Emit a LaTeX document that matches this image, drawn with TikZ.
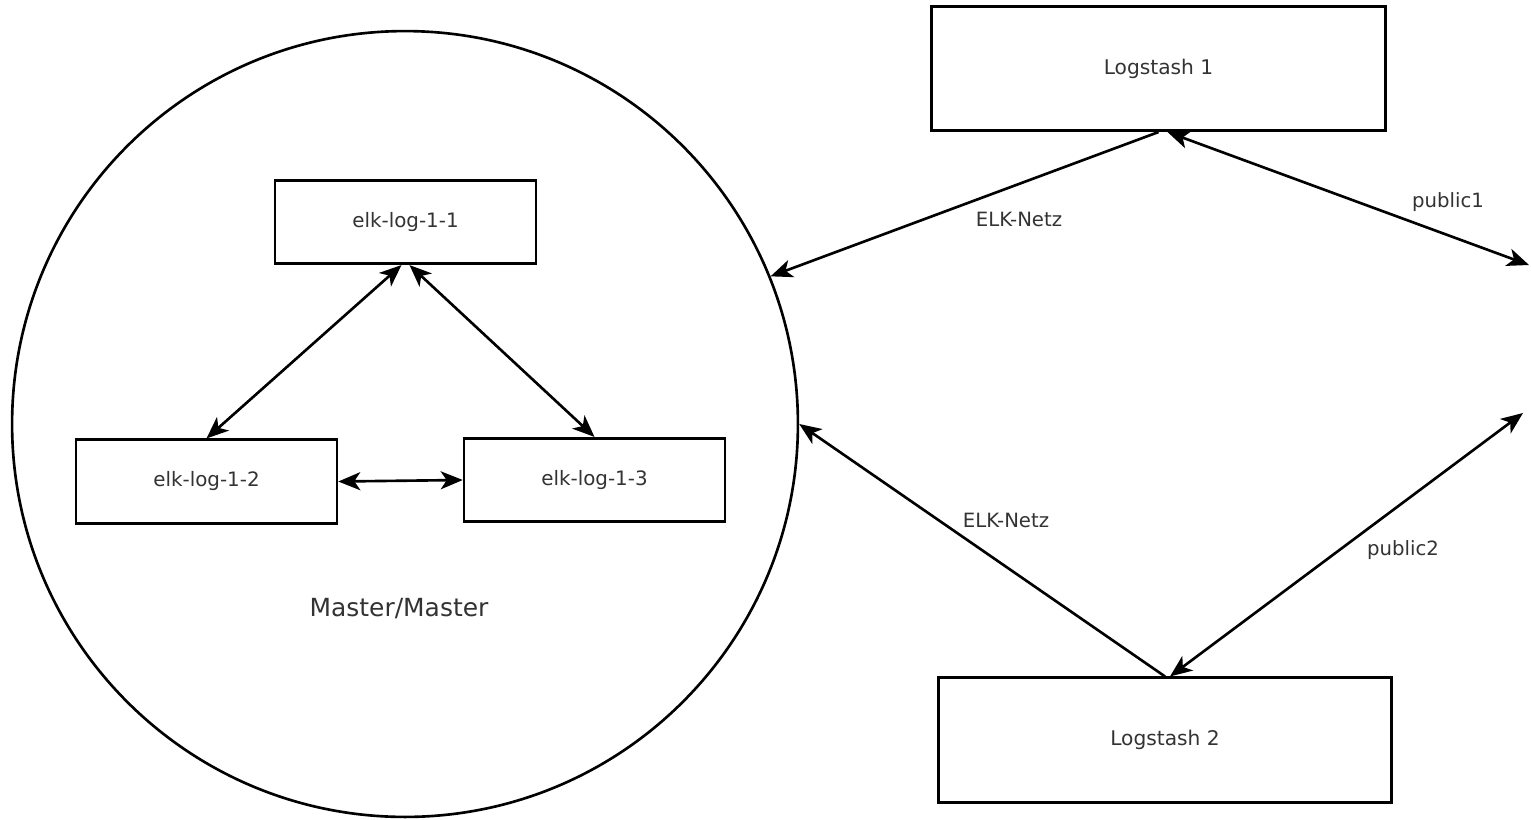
\documentclass[tikz,border=0pt]{standalone}
\usepackage{fontspec}
\setmainfont{DejaVu Sans}
\usetikzlibrary{arrows.meta}

\tikzset{
    hostbox/.style={draw, line width=1.5pt, minimum width=5.22cm, minimum height=1.67cm, font=\fontsize{11.3}{13}\selectfont, text=black!80},
    lsbox/.style={draw, line width=1.5pt, minimum width=9.07cm, minimum height=2.49cm, font=\fontsize{11.5}{13}\selectfont, text=black!80},
    netlabel/.style={font=\fontsize{11.2}{13}\selectfont, text=black!80},
    link/.style={line width=1.5pt, -{Stealth[length=0.44cm, width=0.36cm, inset=0.12cm]}},
    duplex/.style={line width=1.5pt, {Stealth[length=0.44cm, width=0.36cm, inset=0.12cm]}-{Stealth[length=0.44cm, width=0.36cm, inset=0.12cm]}}
}

\begin{document}
\begin{tikzpicture}[x=0.02cm, y=-0.02cm]
    \useasboundingbox (0,0) rectangle (1531,819);

    \begin{scope}[]
    % the master/master cluster
    \node[draw, circle, line width=1.5pt, minimum size=15.72cm, inner sep=0pt] (cluster) at (405,424) {};
    \node[hostbox] (e11) at (405.5,222) {elk-log-1-1};
    \node[hostbox] (e12) at (206.5,481.5) {elk-log-1-2};
    \node[hostbox] (e13) at (594.5,480) {elk-log-1-3};
    \node[font=\fontsize{14.2}{16}\selectfont, text=black!80] (mm) at (399,609) {Master/Master};

    \draw[duplex] ([xshift=-0.08cm]e11.south) -- (e12.north);
    \draw[duplex] ([xshift=0.08cm]e11.south) -- (e13.north);
    \draw[duplex] (e12.east) -- (e13.west);
    \end{scope}

    \begin{scope}[]
    % logstash hosts
    \node[lsbox] (ls1) at (1158.5,68.5) {Logstash 1};
    \node[lsbox] (ls2) at (1165,740) {Logstash 2};
    \coordinate (pub1) at (1529,265);
    \coordinate (pub2) at (1523,413);

    \draw[link] (ls1.south) -- (cluster.22.5);
    \draw[duplex] ([xshift=0.18cm]ls1.south) -- (pub1);
    \draw[link] (ls2.north) -- (cluster.0);
    \draw[duplex] ([xshift=0.1cm]ls2.north) -- (pub2);

    \node[netlabel] (netz1) at (1019,219) {ELK-Netz};
    \node[netlabel] (netz2) at (1006,520) {ELK-Netz};
    \node[netlabel] (lpub1) at (1448,202) {public1};
    \node[netlabel] (lpub2) at (1403,550) {public2};
    \end{scope}
\end{tikzpicture}
\end{document}
